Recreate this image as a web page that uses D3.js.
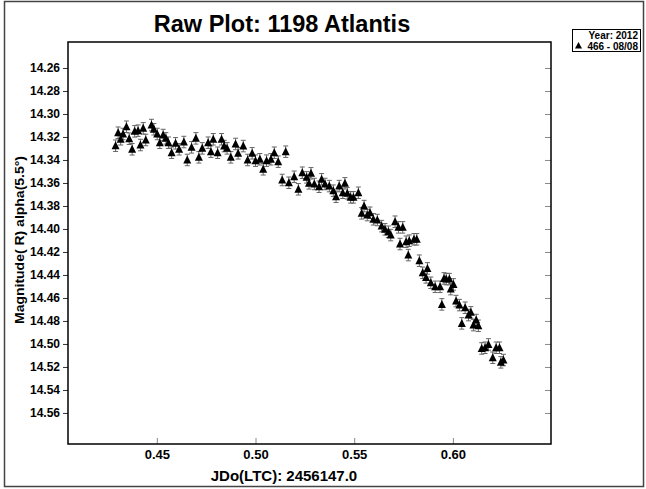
<!DOCTYPE html>
<html><head><meta charset="utf-8">
<script src="https://cdn.jsdelivr.net/npm/d3@7"></script>
<style>
body{margin:0;background:#fff}
svg{display:block}
text{font-family:"Liberation Sans",Arial,sans-serif;font-weight:bold;fill:#000}
</style>
</head><body>
<svg id="c" width="646" height="489"></svg>
<script>
const chartTitle = "Raw Plot: 1198 Atlantis";
const xTitle = "JDo(LTC): 2456147.0";
const yTitle = "Magnitude( R) alpha(5.5°)";
const legendLines = ["Year: 2012", "466 - 08/08"];
const xTicks = [0.45, 0.50, 0.55, 0.60];
const yTicks = [14.26, 14.28, 14.30, 14.32, 14.34, 14.36, 14.38, 14.40, 14.42, 14.44, 14.46, 14.48, 14.50, 14.52, 14.54, 14.56];
const xDomain = [0.405, 0.6497];
const yDomain = [14.2374, 14.587];
const magError = 0.005;

const jdValues = [
0.4291,0.4304,0.4317,0.4329,0.4346,0.4360,0.4375,0.4388,0.4405,0.4417,
0.4431,0.4444,0.4473,0.4485,0.4502,0.4515,0.4532,0.4546,0.4559,0.4575,
0.4595,0.4613,0.4637,0.4654,0.4676,0.4698,0.4713,0.4730,0.4760,0.4774,
0.4786,0.4808,0.4828,0.4841,0.4856,0.4875,0.4899,0.4912,0.4938,0.4960,
0.4983,0.5000,0.5022,0.5039,0.5056,0.5078,0.5095,0.5115,0.5153,0.5135,
0.5169,0.5196,0.5217,0.5237,0.5259,0.5271,0.5281,0.5298,0.5322,0.5335,
0.5352,0.5374,0.5394,0.5408,0.5424,0.5442,0.5453,0.5465,0.5482,0.5496,
0.5521,0.5550,0.5538,0.5566,0.5580,0.5597,0.5617,0.5639,0.5656,0.5673,
0.5685,0.5707,0.5724,0.5746,0.5732,0.5763,0.5779,0.5803,0.5817,0.5774,
0.5830,0.5847,0.5871,0.5864,0.5888,0.5910,0.5935,0.5955,0.5944,0.5966,
0.5982,0.5989,0.6003,0.6016,0.6033,0.6045,0.6062,0.6079,0.6091,0.6104,
0.6118,0.6129,0.6146,0.6163,0.6180,0.6202,0.6219,0.6236,0.6243,0.6256
];
const magValues = [
14.3276,14.3163,14.3220,14.3174,14.3111,14.3215,14.3307,14.3151,14.3145,14.3270,
14.3125,14.3226,14.3096,14.3133,14.3174,14.3250,14.3183,14.3212,14.3250,14.3337,
14.3255,14.3307,14.3244,14.3400,14.3290,14.3212,14.3377,14.3299,14.3250,14.3328,
14.3220,14.3337,14.3220,14.3279,14.3299,14.3377,14.3261,14.3342,14.3279,14.3400,
14.3342,14.3406,14.3394,14.3481,14.3406,14.3394,14.3337,14.3415,14.3328,14.3574,
14.3598,14.3546,14.3655,14.3511,14.3551,14.3603,14.3516,14.3609,14.3633,14.3568,
14.3609,14.3627,14.3667,14.3720,14.3627,14.3685,14.3603,14.3690,14.3725,14.3725,
14.3685,14.3801,14.3864,14.3879,14.3859,14.3916,14.3922,14.3975,14.4003,14.4024,
14.4053,14.3937,14.3986,14.3986,14.4131,14.4111,14.4102,14.4090,14.4090,14.4227,
14.4276,14.4381,14.4343,14.4421,14.4468,14.4503,14.4503,14.4430,14.4656,14.4436,
14.4436,14.4523,14.4482,14.4627,14.4662,14.4821,14.4685,14.4749,14.4725,14.4836,
14.4792,14.4842,14.5039,14.5033,14.5004,14.5120,14.5033,14.5033,14.5160,14.5140
];

const W = 646, H = 489;
const plot = {left: 68, right: 551, top: 42, bottom: 444};
const svg = d3.select("#c");

// outer border
svg.append("rect").attr("x", 4.5).attr("y", 1.5).attr("width", 639).attr("height", 485)
  .attr("fill", "none").attr("stroke", "#444").attr("stroke-width", 1.5);

const x = d3.scaleLinear().domain(xDomain).range([plot.left, plot.right]);
const y = d3.scaleLinear().domain(yDomain).range([plot.top, plot.bottom]);

// title
svg.append("text").attr("x", 282).attr("y", 32).attr("text-anchor", "middle")
  .style("font-size", "23.5px").text(chartTitle);

const tickFont = sel => sel.style("font-family", '"Liberation Sans",Arial,sans-serif').style("font-weight", "bold").attr("fill", "#000");

// left axis
const yAxis = d3.axisLeft(y).tickValues(yTicks).tickFormat(d3.format(".2f")).tickSize(5).tickPadding(3);
const gy = svg.append("g").attr("transform", `translate(${plot.left},0)`).call(yAxis);
gy.select(".domain").remove();
gy.selectAll("text").style("font-size", "12px").call(tickFont);
gy.selectAll("line").attr("stroke", "#333");

// right axis ticks (inward)
const yAxisR = d3.axisLeft(y).tickValues(yTicks).tickFormat("").tickSize(6);
const gyr = svg.append("g").attr("transform", `translate(${plot.right},0)`).call(yAxisR);
gyr.select(".domain").remove();
gyr.selectAll("line").attr("stroke", "#888");

// bottom axis labels + inward ticks
const xAxis = d3.axisBottom(x).tickValues(xTicks).tickFormat(d3.format(".2f")).tickSize(0).tickPadding(6);
const gx = svg.append("g").attr("transform", `translate(0,${plot.bottom})`).call(xAxis);
gx.select(".domain").remove();
gx.selectAll("text").style("font-size", "13px").call(tickFont);
const xAxisIn = d3.axisTop(x).tickValues(xTicks).tickFormat("").tickSize(6);
const gxi = svg.append("g").attr("transform", `translate(0,${plot.bottom})`).call(xAxisIn);
gxi.select(".domain").remove();
gxi.selectAll("line").attr("stroke", "#888");

// frame
svg.append("rect").attr("x", plot.left).attr("y", plot.top)
  .attr("width", plot.right - plot.left).attr("height", plot.bottom - plot.top)
  .attr("fill", "none").attr("stroke", "#000").attr("stroke-width", 1.5);

// axis titles
svg.append("text").attr("x", 284).attr("y", 481).attr("text-anchor", "middle")
  .style("font-size", "15px").text(xTitle);
svg.append("text").attr("transform", `translate(24,240) rotate(-90)`).attr("text-anchor", "middle")
  .style("font-size", "13px").attr("textLength", 168).attr("lengthAdjust", "spacingAndGlyphs").text(yTitle);

// data
const data = jdValues.map((d, i) => ({jd: d, mag: magValues[i]}));
const gErr = svg.append("g").attr("stroke", "#666").attr("stroke-width", 1);
data.forEach(d => {
  const cx = x(d.jd), y1 = y(d.mag - magError), y2 = y(d.mag + magError);
  gErr.append("line").attr("x1", cx).attr("x2", cx).attr("y1", y1).attr("y2", y2);
  gErr.append("line").attr("x1", cx - 2.5).attr("x2", cx + 2.5).attr("y1", y1).attr("y2", y1);
  gErr.append("line").attr("x1", cx - 2.5).attr("x2", cx + 2.5).attr("y1", y2).attr("y2", y2);
});
svg.append("g").selectAll("path").data(data).join("path")
  .attr("transform", d => `translate(${x(d.jd)},${y(d.mag)})`)
  .attr("d", "M0,-4.5L4,3.5L-4,3.5Z").attr("fill", "#000");

// legend
const lg = svg.append("g");
lg.append("rect").attr("x", 572.5).attr("y", 29.5).attr("width", 68).attr("height", 22)
  .attr("fill", "#fff").attr("stroke", "#000").attr("stroke-width", 1);
lg.append("text").attr("x", 638).attr("y", 38.5).attr("text-anchor", "end")
  .style("font-size", "10px").text(legendLines[0]);
lg.append("text").attr("x", 638).attr("y", 49.5).attr("text-anchor", "end")
  .style("font-size", "10px").text(legendLines[1]);
lg.append("path").attr("transform", "translate(578.5,45.5)").attr("d", "M0,-3.5L3.5,3L-3.5,3Z").attr("fill", "#000");
</script>
</body></html>
